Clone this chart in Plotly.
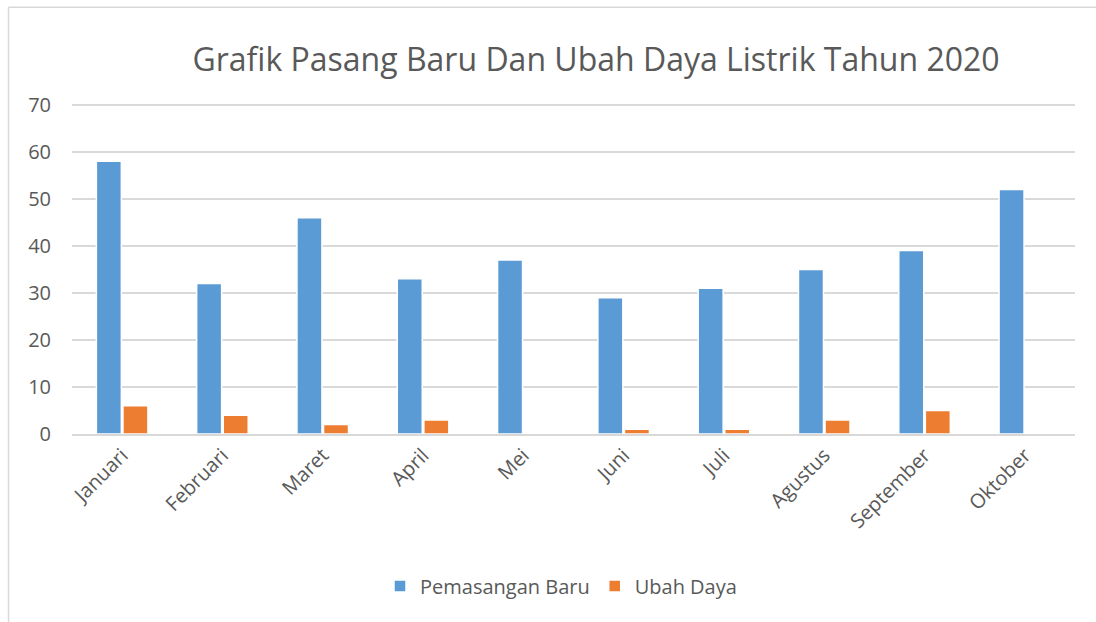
import plotly.graph_objects as go

months = ["Januari", "Februari", "Maret", "April", "Mei", "Juni", "Juli", "Agustus", "September", "Oktober"]
pasang_baru = [58, 32, 46, 33, 37, 29, 31, 35, 39, 52]
ubah_daya = [6, 4, 2, 3, 0, 1, 1, 3, 5, 0]
y_ticks = [0, 10, 20, 30, 40, 50, 60, 70]

W, H = 1096, 622
Y0, Y70 = 434, 105
YMAX = 70.6
px_per_unit = (Y0 - Y70) / 70
L, T = 72, Y0 - YMAX * px_per_unit
R, B = W - 1075, H - Y0
pw, ph = W - L - R, H - T - B

fig = go.Figure()
fig.add_trace(go.Bar(x=months, y=pasang_baru, name="Pemasangan Baru",
                     marker=dict(color="#5B9BD5", line=dict(color="white", width=1.5))))
fig.add_trace(go.Bar(x=months, y=ubah_daya, name="Ubah Daya",
                     marker=dict(color="#ED7D31", line=dict(color="white", width=1.5))))

font = "Open Sans, DejaVu Sans, sans-serif"
fig.update_layout(
    width=W, height=H,
    margin=dict(l=L, r=R, t=T, b=B, autoexpand=False),
    paper_bgcolor="white", plot_bgcolor="white",
    barmode="group", bargap=0.47, bargroupgap=0.06,
    font=dict(family=font, color="#595959", size=20),
    title=dict(text="Grafik Pasang Baru Dan Ubah Daya Listrik Tahun 2020",
               x=596 / W, xanchor="center", y=1 - 60 / H, yanchor="middle",
               font=dict(size=32, color="#595959", family=font)),
    xaxis=dict(tickangle=-45, showgrid=False, showline=True, linecolor="#D9D9D9",
               linewidth=1.5, ticks="", tickfont=dict(size=20, color="#595959")),
    yaxis=dict(range=[0, YMAX], tickvals=y_ticks, showgrid=True, gridcolor="#D9D9D9",
               gridwidth=1.5, zeroline=False, ticks="", showline=False,
               tickfont=dict(size=20, color="#595959"), ticklabelstandoff=20),
    legend=dict(orientation="h", x=(561 - L) / pw, xanchor="center",
                y=-(586 - Y0) / ph, yanchor="middle",
                font=dict(size=20, color="#595959"), itemwidth=30, traceorder="normal"),
    showlegend=True,
)
# chart-area border: only top and left edges are visible in the reference crop
bx0 = (8.5 - L) / pw
by1 = 1 + (T - 7.5) / ph
fig.add_shape(type="line", xref="paper", yref="paper",
              x0=bx0, x1=(W - L) / pw, y0=by1, y1=by1,
              line=dict(color="#D9D9D9", width=1.5), layer="below")
fig.add_shape(type="line", xref="paper", yref="paper",
              x0=bx0, x1=bx0, y0=-(H - Y0) / ph, y1=by1,
              line=dict(color="#D9D9D9", width=1.5), layer="below")
fig.write_html("out.html", config={"displayModeBar": False},
               post_script="document.body.style.margin='0';document.body.style.overflow='hidden';")
